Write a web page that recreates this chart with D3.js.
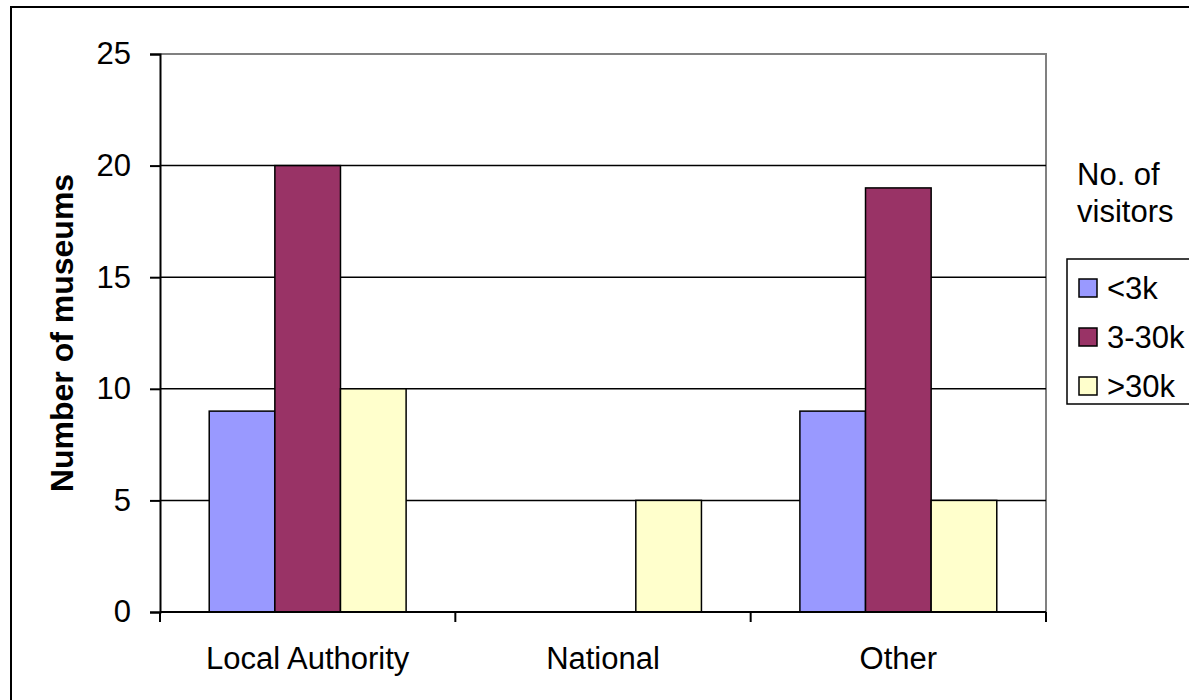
<!DOCTYPE html>
<html>
<head>
<meta charset="utf-8">
<script src="https://cdn.jsdelivr.net/npm/d3@7"></script>
<style>
  html, body { margin: 0; padding: 0; background: #fff; overflow: hidden; }
  svg { display: block; font-family: "Liberation Sans", Arial, sans-serif; }
</style>
</head>
<body>
<svg id="chart" width="1189" height="700"></svg>
<script>
// Museum counts by governance type and annual visitor band
const categories = ["Local Authority", "National", "Other"];
const seriesNames = ["<3k", "3-30k", ">30k"];
const under3k = [9, 0, 9];
const from3to30k = [20, 0, 19];
const over30k = [10, 5, 5];
const yTicks = [0, 5, 10, 15, 20, 25];
const colors = ["#9999FF", "#993366", "#FFFFCC"];

const seriesValues = [under3k, from3to30k, over30k];

const svg = d3.select("#chart");
const fontSize = 31;

// outer chart frame
svg.append("rect")
  .attr("x", 11).attr("y", 7)
  .attr("width", 1200).attr("height", 720)
  .attr("fill", "#fff").attr("stroke", "#000").attr("stroke-width", 2);

const plot = { left: 160, top: 54, right: 1046, bottom: 612 };

const x0 = d3.scaleBand().domain(categories).range([plot.left, plot.right]).padding(0);
// gap width of 150% between groups: band = 4.5 bar widths
const barW = x0.bandwidth() / 4.5;
const x1 = d3.scaleBand().domain(seriesNames)
  .range([0.75 * barW, 3.75 * barW]).padding(0);

const y = d3.scaleLinear().domain([0, 25]).range([plot.bottom, plot.top]);

// plot area border (top and right)
svg.append("path")
  .attr("d", `M${plot.left},${plot.top}H${plot.right}V${plot.bottom}`)
  .attr("fill", "none").attr("stroke", "#808080").attr("stroke-width", 2);

// horizontal gridlines
svg.append("g")
  .selectAll("line")
  .data(yTicks.filter(t => t > 0 && t < 25))
  .join("line")
  .attr("x1", plot.left).attr("x2", plot.right)
  .attr("y1", d => y(d)).attr("y2", d => y(d))
  .attr("stroke", "#000").attr("stroke-width", 1.5);

// bars
const groups = svg.append("g")
  .selectAll("g")
  .data(categories)
  .join("g")
  .attr("transform", d => `translate(${x0(d)},0)`);

groups.selectAll("rect")
  .data((c, i) => seriesNames.map((s, j) => ({ s, j, v: seriesValues[j][i] })))
  .join("rect")
  .filter(d => d.v > 0)
  .attr("x", d => x1(d.s))
  .attr("width", x1.bandwidth())
  .attr("y", d => y(d.v))
  .attr("height", d => y(0) - y(d.v))
  .attr("fill", d => colors[d.j])
  .attr("stroke", "#000").attr("stroke-width", 1.5);

// y axis
const yAxis = svg.append("g")
  .attr("transform", `translate(${plot.left},0)`)
  .call(d3.axisLeft(y).tickValues(yTicks).tickSize(10).tickPadding(19));
yAxis.select(".domain").attr("stroke", "#000").attr("stroke-width", 2);
yAxis.selectAll(".tick line").attr("stroke", "#000").attr("stroke-width", 2);
yAxis.selectAll("text")
  .attr("font-size", fontSize).attr("fill", "#000")
  .attr("font-family", "'Liberation Sans', Arial, sans-serif");

// x axis with ticks at category boundaries
const xAxis = svg.append("g")
  .attr("transform", `translate(0,${plot.bottom})`);
xAxis.append("line")
  .attr("x1", plot.left).attr("x2", plot.right)
  .attr("stroke", "#000").attr("stroke-width", 2);
const boundaries = categories.map(c => x0(c)).concat([x0(categories[categories.length - 1]) + x0.bandwidth()]);
xAxis.selectAll("line.tick")
  .data(boundaries)
  .join("line")
  .attr("class", "tick")
  .attr("x1", d => d).attr("x2", d => d)
  .attr("y1", 0).attr("y2", 10)
  .attr("stroke", "#000").attr("stroke-width", 2);
xAxis.selectAll("text")
  .data(categories)
  .join("text")
  .attr("x", d => x0(d) + x0.bandwidth() / 2)
  .attr("y", 57)
  .attr("text-anchor", "middle")
  .attr("font-size", fontSize)
  .attr("fill", "#000")
  .text(d => d);

// y axis title
svg.append("text")
  .attr("transform", `translate(73,${(plot.top + plot.bottom) / 2 + 0}) rotate(-90)`)
  .attr("text-anchor", "middle")
  .attr("font-size", 32)
  .attr("font-weight", "bold")
  .attr("fill", "#000")
  .text("Number of museums");

// legend title
const legendTitle = svg.append("text")
  .attr("font-size", fontSize).attr("fill", "#000");
legendTitle.append("tspan").attr("x", 1077).attr("y", 185).text("No. of");
legendTitle.append("tspan").attr("x", 1077).attr("y", 222).text("visitors");

// legend box
const legend = svg.append("g");
legend.append("rect")
  .attr("x", 1067).attr("y", 259)
  .attr("width", 160).attr("height", 145)
  .attr("fill", "#fff").attr("stroke", "#000").attr("stroke-width", 1.5);

const rowY = d3.scalePoint().domain(seriesNames).range([288, 386]);
const rows = legend.selectAll("g.item")
  .data(seriesNames)
  .join("g")
  .attr("class", "item")
  .attr("transform", d => `translate(0,${rowY(d)})`);
rows.append("rect")
  .attr("x", 1079).attr("y", -9)
  .attr("width", 18).attr("height", 18)
  .attr("fill", (d, i) => colors[i])
  .attr("stroke", "#000").attr("stroke-width", 1.5);
rows.append("text")
  .attr("x", 1107).attr("y", 11)
  .attr("font-size", fontSize).attr("fill", "#000")
  .text(d => d);
</script>
</body>
</html>
